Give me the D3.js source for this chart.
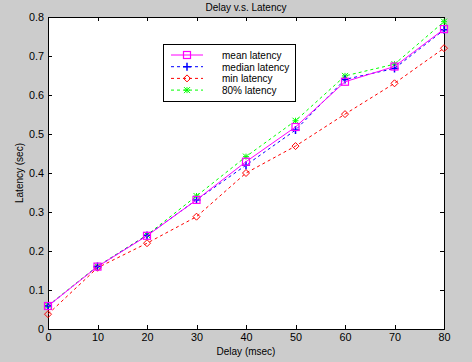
<!DOCTYPE html>
<html>
<head>
    <title>Delay v.s. Latency</title>
    <script src="https://cdnjs.cloudflare.com/ajax/libs/d3/7.8.5/d3.min.js"></script>
    <style>
        body { margin: 0; background: #cccccc; }
        svg { display: block; }
        text { font-family: "Liberation Sans", Arial, sans-serif; font-size: 10px; fill: black; }
    </style>
</head>
<body>
    <svg width="472" height="362"></svg>

    <script>
        // data
        const delays = [0, 10, 20, 30, 40, 50, 60, 70, 80];
        const meanLatency   = [0.059, 0.160, 0.239, 0.331, 0.429, 0.518, 0.634, 0.673, 0.769];
        const medianLatency = [0.059, 0.160, 0.240, 0.331, 0.420, 0.510, 0.640, 0.668, 0.767];
        const minLatency    = [0.038, 0.157, 0.220, 0.288, 0.400, 0.469, 0.551, 0.630, 0.720];
        const p80Latency    = [0.060, 0.161, 0.241, 0.341, 0.442, 0.534, 0.649, 0.679, 0.788];
        const xTicks = [0, 10, 20, 30, 40, 50, 60, 70, 80];
        const yTicks = [0, 0.1, 0.2, 0.3, 0.4, 0.5, 0.6, 0.7, 0.8];

        const series = [
            { name: "mean latency",   values: meanLatency,   color: "#ff00ff", dash: null,  marker: "square" },
            { name: "median latency", values: medianLatency, color: "#0000ff", dash: "3,3", marker: "plus" },
            { name: "min latency",    values: minLatency,    color: "#ff0000", dash: "3,3", marker: "diamond" },
            { name: "80% latency",    values: p80Latency,    color: "#00ff00", dash: "3,3", marker: "star" }
        ];

        const svg = d3.select("svg");
        const plotL = 48, plotR = 444, plotT = 17, plotB = 329;

        const x = d3.scaleLinear().domain([0, 80]).range([plotL, plotR]);
        const y = d3.scaleLinear().domain([0, 0.8]).range([plotB, plotT]);

        svg.append("rect").attr("x", plotL).attr("y", plotT)
           .attr("width", plotR - plotL).attr("height", plotB - plotT)
           .attr("fill", "white");

        function styleAxis(g) {
            g.select(".domain").remove();
            g.selectAll("line").attr("stroke", "black").attr("shape-rendering", "crispEdges");
            g.selectAll("text").style("font-size", "10.8px")
             .style("font-family", "'Liberation Sans', Arial, sans-serif");
        }

        svg.append("g").attr("transform", `translate(0,${plotB})`)
           .call(d3.axisBottom(x).tickValues(xTicks).tickSizeInner(-4).tickSizeOuter(0).tickPadding(4).tickFormat(d3.format("d")))
           .call(styleAxis);
        svg.append("g").attr("transform", `translate(0,${plotT})`)
           .call(d3.axisTop(x).tickValues(xTicks).tickSizeInner(-4).tickSizeOuter(0).tickFormat(""))
           .call(styleAxis);
        svg.append("g").attr("transform", `translate(${plotL},0)`)
           .call(d3.axisLeft(y).tickValues(yTicks).tickSizeInner(-4).tickSizeOuter(0).tickPadding(4)
                 .tickFormat(d => d === 0 ? "0" : d3.format(".1f")(d)))
           .call(styleAxis);
        svg.append("g").attr("transform", `translate(${plotR},0)`)
           .call(d3.axisRight(y).tickValues(yTicks).tickSizeInner(-4).tickSizeOuter(0).tickFormat(""))
           .call(styleAxis);

        svg.append("rect").attr("x", plotL).attr("y", plotT)
           .attr("width", plotR - plotL).attr("height", plotB - plotT)
           .attr("fill", "none").attr("stroke", "black").attr("shape-rendering", "crispEdges");

        const line = d3.line().x((d, i) => x(delays[i])).y(d => y(d));

        function drawMarker(g, type, cx, cy, color) {
            if (type === "square") {
                g.append("rect").attr("x", cx - 3.5).attr("y", cy - 3.5).attr("width", 7).attr("height", 7)
                 .attr("fill", "none").attr("stroke", color).attr("stroke-width", 1.2);
            } else if (type === "plus") {
                g.append("path").attr("d", `M${cx - 4},${cy}H${cx + 4}M${cx},${cy - 4}V${cy + 4}`)
                 .attr("stroke", color).attr("stroke-width", 1.5);
            } else if (type === "diamond") {
                g.append("path").attr("d", `M${cx},${cy - 3.5}L${cx + 3.5},${cy}L${cx},${cy + 3.5}L${cx - 3.5},${cy}Z`)
                 .attr("fill", "none").attr("stroke", color);
            } else if (type === "star") {
                g.append("path").attr("d", `M${cx - 3},${cy - 3}L${cx + 3},${cy + 3}M${cx - 3},${cy + 3}L${cx + 3},${cy - 3}M${cx - 3},${cy}H${cx + 3}M${cx},${cy - 3}V${cy + 3}`)
                 .attr("stroke", color);
            }
        }

        // draw in reverse so mean sits on top
        series.slice().reverse().forEach(s => {
            const g = svg.append("g");
            g.append("path").datum(s.values).attr("d", line)
             .attr("fill", "none").attr("stroke", s.color).attr("stroke-width", 1)
             .attr("stroke-dasharray", s.dash);
            s.values.forEach((v, i) => drawMarker(g, s.marker, x(delays[i]), y(v), s.color));
        });

        // legend
        const lg = svg.append("g");
        lg.append("rect").attr("x", 163.5).attr("y", 44.5).attr("width", 132).attr("height", 57)
          .attr("fill", "white").attr("stroke", "black");
        series.forEach((s, i) => {
            const ly = 55 + i * 11.7;
            lg.append("line").attr("x1", 171).attr("x2", 203).attr("y1", ly).attr("y2", ly)
              .attr("stroke", s.color).attr("stroke-dasharray", s.dash);
            drawMarker(lg, s.marker, 187, ly, s.color);
            lg.append("text").attr("x", 222).attr("y", ly + 4).text(s.name);
        });

        svg.append("text").attr("x", (plotL + plotR) / 2).attr("y", 11)
           .attr("text-anchor", "middle").text("Delay v.s. Latency");
        svg.append("text").attr("x", (plotL + plotR) / 2).attr("y", 355)
           .attr("text-anchor", "middle").text("Delay (msec)");
        svg.append("text").attr("transform", `translate(23,${(plotT + plotB) / 2}) rotate(-90)`)
           .attr("text-anchor", "middle").text("Latency (sec)");
    </script>
</body>
</html>
